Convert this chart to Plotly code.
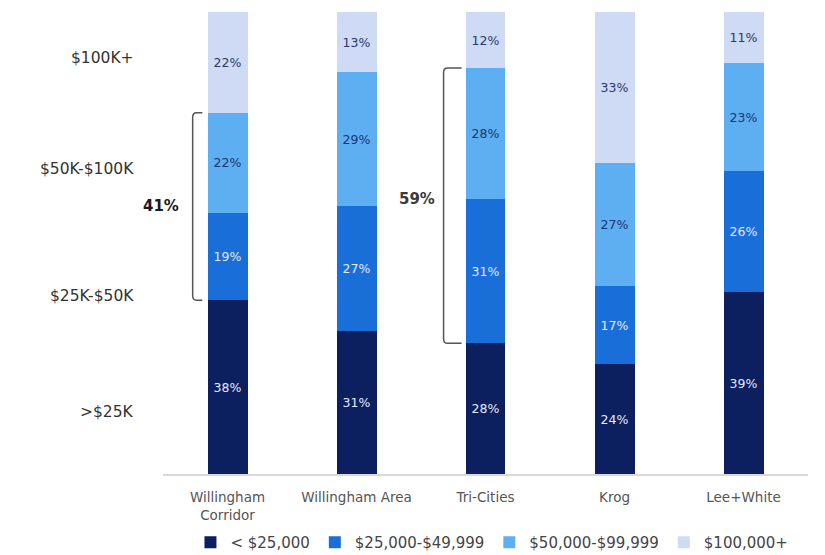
import plotly.graph_objects as go

categories = ["Willingham<br>Corridor", "Willingham Area", "Tri-Cities", "Krog", "Lee+White"]
series_names = ["< $25,000", "$25,000-$49,999", "$50,000-$99,999", "$100,000+"]
under_25k = [38, 31, 28, 24, 39]
k25_50 = [19, 27, 31, 17, 26]
k50_100 = [22, 29, 28, 27, 23]
over_100k = [22, 13, 12, 33, 11]
band_labels = ["$100K+", "$50K-$100K", "$25K-$50K", ">$25K"]
band_label_y = [90, 66, 38.5, 13.5]
bracket_cats = [0, 2]
bracket_text = ["41%", "59%"]

FONT = "DejaVu Sans"
colors = ["#0c1f5e", "#1a6ed8", "#5eaef2", "#cfdaf5"]
text_colors = ["#e4e9ff", "#e4e9ff", "#1d3570", "#2a3a6a"]
series = [under_25k, k25_50, k50_100, over_100k]

xs = list(range(len(categories)))
fig = go.Figure()
for name, vals, col, tcol in zip(series_names, series, colors, text_colors):
    fig.add_trace(go.Bar(
        x=xs, y=vals, name=name, marker=dict(color=col, line=dict(width=0)),
        text=[f"{v}%" for v in vals], textposition="inside", insidetextanchor="middle",
        textfont=dict(size=12.5, color=tcol, family=FONT), width=0.31,
        hoverinfo="skip",
    ))

annotations = []
for lab, yv in zip(band_labels, band_label_y):
    annotations.append(dict(xref="paper", yref="y", x=-0.042, y=yv, text=lab,
                            showarrow=False, xanchor="right",
                            font=dict(size=15.5, color="#333333", family=FONT)))

shapes = []
text_color = ["#1a1a1a", "#3a3a3a"]
label_off = [0.09, 0.05]
label_dy = [0, 1.5]
for i, (c, t) in enumerate(zip(bracket_cats, bracket_text)):
    tot = sum(s[c] for s in series)
    y0 = under_25k[c] / tot * 100
    y1 = (under_25k[c] + k25_50[c] + k50_100[c]) / tot * 100
    xv = c - 0.155 - (0.115 if i == 0 else 0.17)
    xe = c - 0.155 - (0.04 if i == 0 else 0.03)
    r = 0.03
    ry = 1.0
    path = (f"M {xe},{y1} L {xv + r},{y1} Q {xv},{y1} {xv},{y1 - ry} "
            f"L {xv},{y0 + ry} Q {xv},{y0} {xv + r},{y0} L {xe},{y0}")
    shapes.append(dict(type="path", xref="x", yref="y", path=path,
                       line=dict(color="#555555", width=1.5)))
    annotations.append(dict(xref="x", yref="y", x=xv - label_off[i], y=(y0 + y1) / 2 + label_dy[i],
                            text=f"<b>{t}</b>", showarrow=False, xanchor="right",
                            font=dict(size=15, color=text_color[i], family=FONT)))

fig.update_layout(
    barmode="stack", barnorm="percent",
    width=825, height=555,
    margin=dict(l=155, r=25, t=4, b=82),
    plot_bgcolor="white", paper_bgcolor="white",
    font=dict(family=FONT, color="#444444"),
    xaxis=dict(tickvals=xs, ticktext=categories, range=[-0.5, 4.5], showgrid=False,
               showline=True, linecolor="#d9d9d9", linewidth=1.5, ticks="",
               ticklabelstandoff=10, tickfont=dict(size=13.5, color="#555555"), zeroline=False),
    yaxis=dict(range=[0, 100], visible=False),
    legend=dict(orientation="h", x=0.51, xanchor="center", y=-0.148, yanchor="middle",
                font=dict(size=15, color="#444444"), traceorder="normal", itemwidth=30),
    showlegend=True,
    annotations=annotations, shapes=shapes,
)
fig.write_html("out.html")
